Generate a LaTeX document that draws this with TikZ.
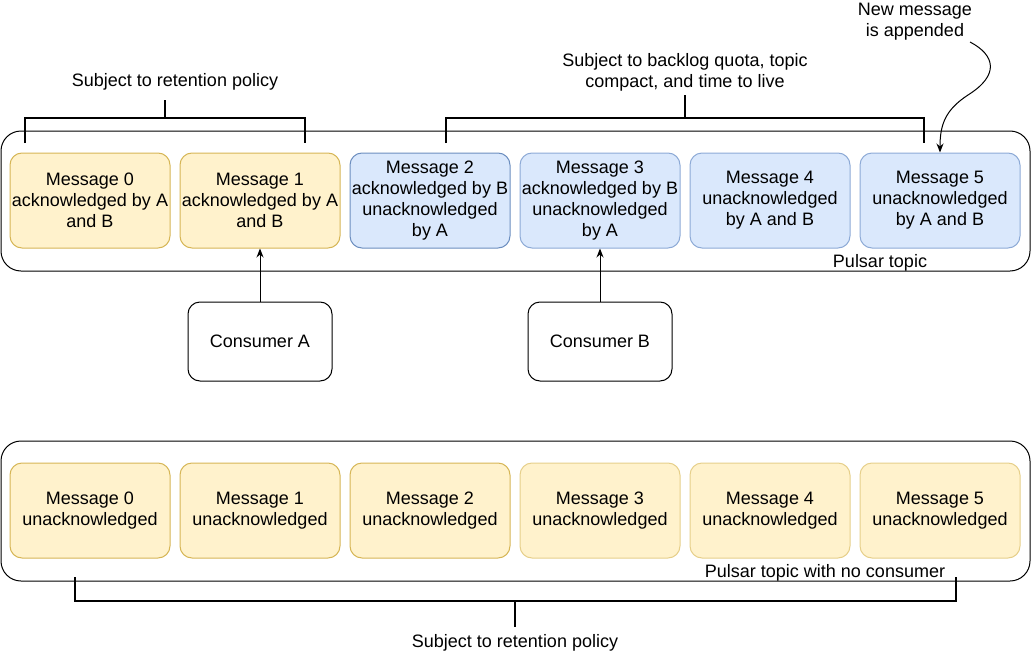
\documentclass[tikz,border=0pt]{standalone}
\usepackage{fontspec}
\setmainfont{Liberation Sans}
\usetikzlibrary{arrows.meta}
\definecolor{yfill}{HTML}{FFF2CC}
\definecolor{ydraw}{HTML}{D6B656}
\definecolor{ydrawl}{HTML}{E6CF8A}
\definecolor{bfill}{HTML}{DAE8FC}
\definecolor{bdraw}{HTML}{6C8EBF}
\definecolor{bdrawl}{HTML}{8DAAD6}
\tikzset{
  every node/.style={font=\fontsize{18}{21}\selectfont, align=center, inner sep=0pt},
  msg/.style={draw, line width=1pt, rounded corners=12pt, minimum width=160pt, minimum height=95pt},
  ymsg/.style={msg, fill=yfill, draw=ydraw},
  ymsgl/.style={msg, fill=yfill, draw=ydrawl},
  bmsg/.style={msg, fill=bfill, draw=bdraw},
  bmsgl/.style={msg, fill=bfill, draw=bdrawl},
  topicbox/.style={draw, line width=1pt, rounded corners=20pt, minimum width=1029pt, minimum height=140pt},
  consumer/.style={draw, line width=1pt, rounded corners=12pt, minimum width=144pt, minimum height=79pt},
  bracket/.style={line width=2pt},
  arr/.style={line width=1pt, -{Stealth[length=9pt,width=7pt]}},
}
\begin{document}
\begin{tikzpicture}[x=1pt,y=-1pt]
\useasboundingbox (0,0) rectangle (1031,653);
% containers
\node[topicbox] (top) at (515.5,201) {};
\node[topicbox] (bot) at (515.5,511) {};
% top messages
\node[ymsg] (t0) at (90,200.5) {Message 0\\acknowledged by A\\and B};
\node[ymsg] (t1) at (260,200.5) {Message 1\\acknowledged by A\\and B};
\node[bmsg] (t2) at (430,200.5) {Message 2\\acknowledged by B\\unacknowledged\\by A};
\node[bmsgl] (t3) at (600,200.5) {Message 3\\acknowledged by B\\unacknowledged\\by A};
\node[bmsgl] (t4) at (770,200.5) {Message 4\\unacknowledged\\by A and B};
\node[bmsgl] (t5) at (940,200.5) {Message 5\\unacknowledged\\by A and B};
\node (toplbl) at (880,263) {Pulsar topic};
% bottom messages
\node[ymsg] (b0) at (90,510.5) {Message 0\\unacknowledged};
\node[ymsg] (b1) at (260,510.5) {Message 1\\unacknowledged};
\node[ymsg] (b2) at (430,510.5) {Message 2\\unacknowledged};
\node[ymsgl] (b3) at (600,510.5) {Message 3\\unacknowledged};
\node[ymsgl] (b4) at (770,510.5) {Message 4\\unacknowledged};
\node[ymsgl] (b5) at (940,510.5) {Message 5\\unacknowledged};
\node (botlbl) at (825,573) {Pulsar topic with no consumer};
% consumers
\node[consumer] (ca) at (260,341.5) {Consumer A};
\node[consumer] (cb) at (600,341.5) {Consumer B};
\draw[arr] (ca.north) -- (t1.south);
\draw[arr] (cb.north) -- (t3.south);
% labels
\node (ret1) at (175,82) {Subject to retention policy};
\node (backlog) at (685,72) {Subject to backlog quota, topic\\compact, and time to live};
\node (newmsg) at (915,22) {New message\\is appended};
\node (ret2) at (515,643) {Subject to retention policy};
% brackets
\draw[bracket] (25,143) -- (25,118) -- (305,118) -- (305,143);
\draw[bracket] (165,118) -- (165,100);
\draw[bracket] (446,143) -- (446,118) -- (924,118) -- (924,143);
\draw[bracket] (685,118) -- (685,95);
\draw[bracket] (75,577) -- (75,601) -- (956,601) -- (956,577);
\draw[bracket] (515,601) -- (515,627);
% curved arrow
\coordinate (cstart) at (970,42);
\draw[arr] (cstart) .. controls (995,55) and (1000,75) .. (968,95) .. controls (945,110) and (940,125) .. (t5.north);
\end{tikzpicture}
\end{document}
